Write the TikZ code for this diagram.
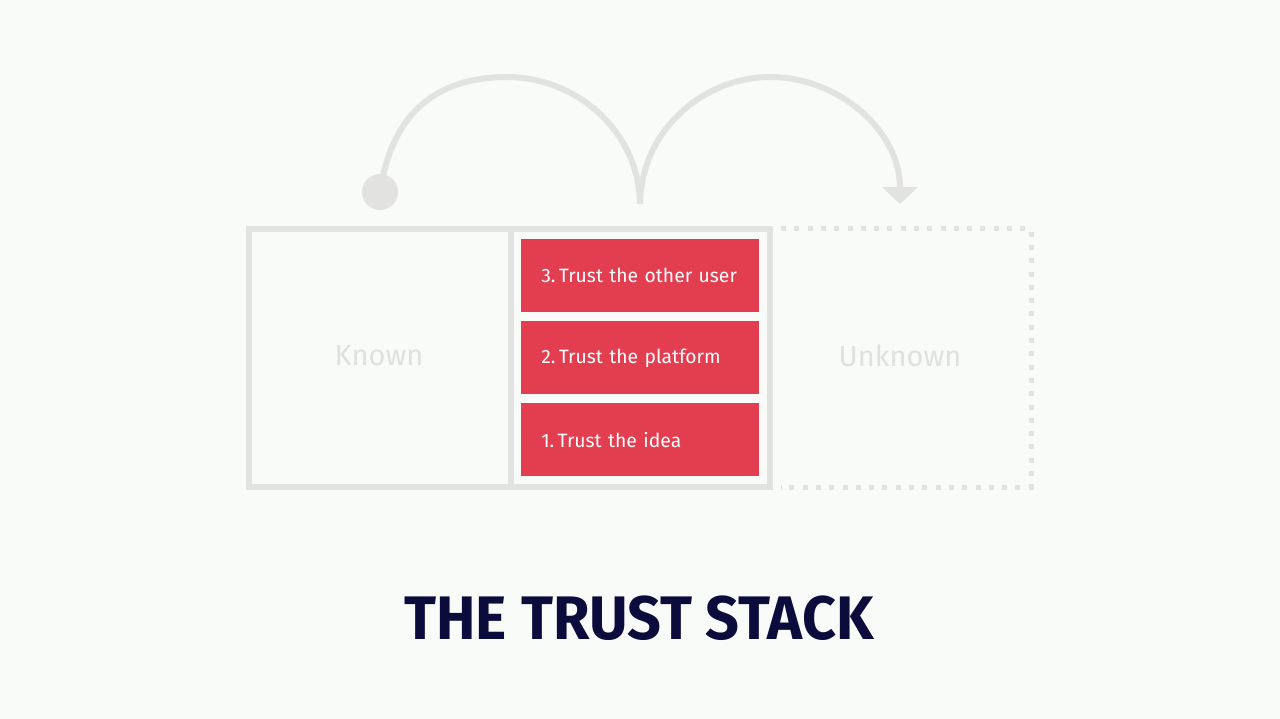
\documentclass[tikz,border=0pt]{standalone}
\usepackage{fontspec}
\setmainfont{Fira Sans}
\usetikzlibrary{arrows.meta}

\definecolor{slidebg}{HTML}{F9FBF9}
\definecolor{framegray}{HTML}{E2E3E1}
\definecolor{labelgray}{HTML}{E0E1DF}
\definecolor{stackred}{HTML}{E33D50}
\definecolor{titlenavy}{HTML}{0B0C3B}

\begin{document}
\begin{tikzpicture}[
    x=0.02cm, y=-0.02cm,
    frame/.style={draw=framegray, line width=0.11cm},
    layer/.style={fill=stackred, text=white, anchor=north west,
        minimum width=4.76cm, minimum height=1.46cm, inner xsep=0.4cm,
        text width=3.96cm, align=left, font=\fontsize{11}{13}\selectfont},
    side/.style={text=labelgray, font=\fontsize{16.5}{19}\selectfont},
    hop/.style={draw=framegray, line width=0.12cm}
]
\fill[slidebg] (0,0) rectangle (1280,719);
\useasboundingbox (0,0) rectangle (1280,719);

% known / stack frame
\draw[frame] (249,229) rectangle (770,487);
\draw[frame] (511,229) -- (511,487);

% unknown frame
\draw[framegray, line width=0.1cm, dash pattern=on 0.1cm off 0.166cm]
    (781,229) -- (1031,229) -- (1031,487) -- (781,487);

\node[side] (known) at (379,356) {Known};
\node[side] (unknown) at (900,356) {Unknown};

% the stack
\node[layer] (other) at (521,239) {3.\,Trust the other user};
\node[layer] (platform) at (521,321) {2.\,Trust the platform};
\node[layer] (idea) at (521,403) {1.\,Trust the idea};

% hops over the frame
\node[circle, fill=framegray, minimum size=0.72cm, inner sep=0pt] (dot) at (380,192) {};
\coordinate (lift) at (383,176);
\coordinate (peakA) at (507,77);
\coordinate (dip) at (640,204);
\coordinate (peakB) at (770,77);
\coordinate (land) at (900,204);

\draw[hop] (lift) .. controls (398,108) and (442,77) .. (peakA)
    .. controls (575,77) and (639,130) .. (dip);
\draw[hop, -{Triangle[length=0.34cm, width=0.7cm]}] (dip)
    .. controls (641,130) and (704,77) .. (peakB)
    .. controls (838,77) and (900,130) .. (land);

\node[text=titlenavy, font=\fontsize{35}{40}\selectfont\bfseries] (title) at (639,618)
    {\scalebox{0.963}[1]{THE TRUST STACK}};
\end{tikzpicture}
\end{document}
